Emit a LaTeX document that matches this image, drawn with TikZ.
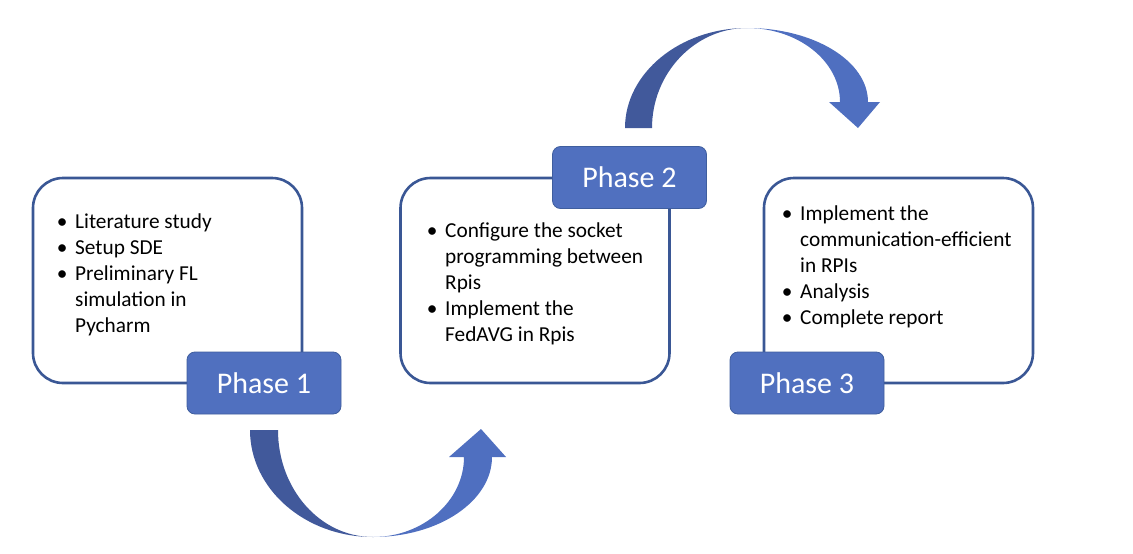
\documentclass[tikz,border=0pt]{standalone}
\usepackage{fontspec}
\setmainfont{Carlito}
\definecolor{boxline}{HTML}{3A5795}
\definecolor{phasefill}{HTML}{5070BF}
\definecolor{phaseline}{HTML}{3F5E9E}
\definecolor{arrdark}{HTML}{41599B}
\definecolor{arrlight}{HTML}{4F6FC0}
\newcommand\bul{\makebox[0pt]{•}\hspace{13pt}}
\newcommand\ind{\hspace{13pt}}
\tikzset{
  stagebox/.style={draw=boxline, line width=2.6pt, rounded corners=30pt, fill=white,
    minimum width=269pt, minimum height=205pt, inner sep=0pt},
  phaselabel/.style={draw=phaseline, line width=0.8pt, fill=phasefill, rounded corners=8pt,
    minimum width=154pt, minimum height=62pt, inner sep=0pt, text=white,
    font=\fontsize{30}{35}\selectfont},
  itemtext/.style={anchor=north west, inner sep=0pt, font=\fontsize{21.3}{26}\selectfont, text=black}
}
\begin{document}
\begin{tikzpicture}[x=1pt,y=-1pt]
\useasboundingbox (0,0) rectangle (1133,554);
% boxes
\node[stagebox] (b1) at (167.5,280.5) {};
\node[stagebox] (b2) at (535,280.5) {};
\node[stagebox] (b3) at (898.5,280.5) {};
% texts
\node[itemtext] (t1) at (62,210) {\begin{tabular}{@{}l@{}}
\bul Literature study\\
\bul Setup SDE\\
\bul Preliminary FL\\
\ind simulation in\\
\ind Pycharm
\end{tabular}};
\node[itemtext] (t2) at (432,219) {\begin{tabular}{@{}l@{}}
\bul Configure the socket\\
\ind programming between\\
\ind Rpis\\
\bul Implement the\\
\ind FedAVG in Rpis
\end{tabular}};
\node[itemtext] (t3) at (787,202) {\begin{tabular}{@{}l@{}}
\bul Implement the\\
\ind communication-efficient\\
\ind in RPIs\\
\bul Analysis\\
\bul Complete report
\end{tabular}};
% phase labels
\node[phaselabel] (p1) at (264,383) {Phase 1};
\node[phaselabel] (p2) at (629.5,177.5) {Phase 2};
\node[phaselabel] (p3) at (807,383) {Phase 3};
% bottom curved arrow (Phase 1 -> Phase 2)
\coordinate (a1s) at (250,430);
\coordinate (a1m) at (373,537);
\coordinate (a1t) at (481,429);
\fill[arrdark] (a1s) .. controls (250,489) and (305,537) .. (a1m)
  .. controls (320,537) and (278,489) .. (278,430) -- cycle;
\fill[arrlight] (a1m) .. controls (439,537) and (492,501) .. (492,457)
  -- (506,457) -- (a1t) -- (449,457) -- (464,457)
  .. controls (464,501) and (423,537) .. (a1m) -- cycle;
% top curved arrow (Phase 2 -> Phase 3)
\coordinate (a2s) at (625,128);
\coordinate (a2m) at (747,28);
\coordinate (a2t) at (858,128);
\fill[arrdark] (a2s) .. controls (625,73) and (680,28) .. (a2m)
  .. controls (695,28) and (652,73) .. (652,128) -- cycle;
\fill[arrlight] (a2m) .. controls (814,28) and (868,61) .. (868,102)
  -- (880,102) -- (a2t) -- (829,102) -- (840,102)
  .. controls (840,61) and (798,28) .. (a2m) -- cycle;
\end{tikzpicture}
\end{document}
